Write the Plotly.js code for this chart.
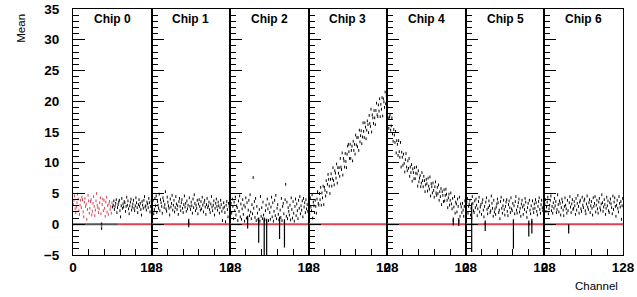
<!DOCTYPE html>
<html>
<head>
<meta charset="utf-8">
<script src="https://cdn.plot.ly/plotly-3.0.1.min.js"></script>
<style>html,body{margin:0;padding:0;background:#fff;}#chart{width:637px;height:297px;}</style>
</head>
<body>
<div id="chart"></div>
<script>
// ---- data (mean per channel) ----
const chipNames = ["Chip 0","Chip 1","Chip 2","Chip 3","Chip 4","Chip 5","Chip 6"];
const xTickVals = [0,128];
const xTickText = ["0","128"];
const redChannelsChip0 = 64;      // first channels of chip 0 drawn in red
const fitLevel = 0;               // the horizontal fit line
const darkFitEndChip0 = 74;       // chip 0 fit line is dark up to this channel

const chip0 = [3.2,3.9,4.6,2.5,1.9,2.8,3.5,4.9,4.1,2.2,1.6,3.1,3.9,2.7,4.4,4.0,
2.0,1.2,3.6,4.2,2.9,3.3,0.8,2.4,4.7,3.8,1.8,2.6,3.7,4.0,1.5,2.1,
3.4,4.5,2.9,1.4,2.3,3.8,5.0,3.1,2.7,1.9,2.5,3.5,4.3,1.7,-0.3,3.2,
4.1,2.2,3.9,2.6,1.3,3.6,4.4,2.0,3.0,1.6,3.3,3.7,2.4,2.9,1.8,3.5,
2.8,3.1,3.8,2.4,2.9,3.4,4.0,1.9,2.7,3.2,3.6,3.9,2.2,1.2,3.0,4.2,
2.6,3.3,2.8,3.7,3.5,2.1,2.9,4.4,3.1,3.8,2.5,1.7,3.0,3.6,4.1,2.3,
2.8,3.3,3.9,2.6,2.2,3.0,4.3,3.5,2.7,1.9,3.2,4.0,2.9,3.4,2.4,1.5,
3.7,3.1,2.6,3.9,4.5,2.8,3.0,2.3,3.6,3.3,2.7,4.2,3.5,2.0,2.9,3.8];

const chip1 = [2.8,3.3,3.9,1.7,2.4,4.2,3.0,4.6,1.9,3.7,3.1,2.6,4.9,2.2,4.0,3.5,
2.9,1.8,4.3,3.8,2.7,3.2,5.3,2.5,2.1,4.4,3.6,3.0,2.6,1.5,4.1,2.8,
3.4,4.7,2.3,3.1,3.9,2.0,2.7,4.5,3.3,2.4,3.0,1.6,3.7,4.2,2.9,2.2,
3.5,4.0,2.6,1.9,3.2,4.6,2.8,3.4,2.1,3.8,2.5,3.1,0.2,4.3,2.9,2.4,
3.6,3.0,1.8,4.1,2.7,4.8,3.4,2.2,3.1,2.6,3.9,1.7,3.3,4.0,2.9,2.3,
3.7,2.5,4.4,3.1,2.0,3.5,3.9,2.8,1.6,3.2,4.2,2.7,3.0,3.6,2.4,1.9,
3.3,4.5,2.8,2.2,3.1,3.8,1.5,2.6,3.4,4.1,2.9,2.3,3.6,3.0,1.8,2.7,
3.9,3.2,2.1,0.6,2.6,3.5,2.8,1.9,0.4,3.1,3.7,2.4,1.2,3.4,2.9,2.5];

const chip2 = [2.6,3.4,1.8,4.1,2.9,0.9,3.6,2.2,4.4,1.5,3.0,2.7,0.6,3.8,2.1,4.6,
1.2,3.3,0.8,2.5,4.0,1.6,3.1,0.5,2.8,4.3,1.0,3.5,0.8,2.3,3.9,1.4,
4.8,2.0,0.9,3.2,1.7,7.6,2.6,3.7,1.1,4.2,0.6,2.9,1.8,0.8,0.5,2.4,
0.5,4.5,1.3,2.7,0.9,3.6,1.5,0.5,0.7,2.2,3.1,0.3,4.1,2.5,0.6,3.3,
1.9,0.8,2.8,4.4,1.2,3.5,0.5,2.1,3.9,1.4,4.7,0.9,2.6,3.2,1.6,0.7,
0.6,2.3,1.1,4.2,0.6,2.9,3.4,1.7,0.2,4.0,6.5,1.3,3.6,0.9,2.7,2.1,
1.5,3.1,0.7,4.3,2.4,1.0,3.7,1.8,0.5,2.9,4.1,1.4,3.3,2.2,0.9,3.9,
2.6,4.5,1.7,3.0,2.3,3.8,1.2,4.2,2.8,3.5,1.9,4.0,2.5,3.2,2.1,3.6];

const chip3 = [3.1,1.6,4.3,2.8,2.2,4.8,1.0,3.6,3.0,1.9,3.9,2.9,1.8,4.1,5.3,3.4,
3.1,5.0,4.0,6.0,3.1,5.1,4.3,6.2,3.2,6.0,5.5,4.6,7.1,5.2,6.5,8.1,
7.3,6.2,5.0,7.3,8.2,6.2,7.4,9.2,7.1,6.4,8.7,8.3,7.5,9.8,6.7,9.2,
8.3,9.2,7.8,10.7,9.3,8.9,11.6,8.0,10.7,10.3,9.3,11.5,10.2,9.2,11.4,12.7,
13.0,11.8,10.7,13.0,10.7,12.0,12.7,10.3,13.5,12.0,13.0,11.4,14.5,12.9,14.1,12.6,
14.1,12.0,15.3,13.4,14.4,15.2,13.1,14.2,16.5,15.1,14.1,16.5,15.8,13.9,15.3,16.8,
16.2,14.9,17.7,16.4,15.9,18.7,15.0,17.8,17.3,16.4,18.5,17.3,16.2,18.5,19.7,17.8,
17.5,19.4,18.4,20.4,17.5,19.5,18.7,20.6,17.6,20.4,19.9,19.0,21.5,19.6,20.9,22.5];

const chip4 = [19.0,17.3,15.6,17.4,17.8,15.3,16.0,17.3,14.7,13.5,15.4,14.5,13.3,15.1,11.6,13.6,
13.0,11.2,13.6,11.8,10.9,13.3,9.3,11.7,10.9,9.6,11.4,9.9,8.5,10.5,11.5,9.3,
8.7,10.3,9.1,10.7,7.8,9.3,8.4,9.7,7.0,9.0,8.4,7.4,9.2,7.4,8.3,9.3,
8.2,6.2,8.7,6.9,7.5,7.9,6.1,6.7,8.4,7.1,6.1,7.8,7.1,5.3,6.4,7.3,
6.6,5.4,7.5,6.2,5.7,7.7,4.6,6.6,6.1,5.1,6.7,5.5,4.4,6.1,6.9,5.1,
4.7,6.0,5.0,6.4,3.9,5.3,4.5,5.8,3.2,5.3,4.7,3.7,5.6,3.8,4.7,5.7,
4.9,3.9,2.7,4.3,4.9,3.1,3.9,5.1,3.3,2.5,4.2,0.6,2.8,4.5,1.8,3.6,
3.3,2.0,4.1,2.9,0.5,4.4,1.3,3.3,2.8,1.9,3.4,2.3,1.3,2.9,3.8,2.1];

const chip5 = [2.4,3.6,4.2,1.8,2.9,3.3,3.9,1.5,2.6,1.0,4.5,3.4,2.2,1.9,3.8,2.7,
4.1,3.1,1.4,2.5,3.7,4.4,2.0,2.8,3.2,1.6,3.5,4.0,2.3,1.2,2.9,0.1,
3.6,4.3,2.4,1.7,2.7,3.8,3.0,1.9,2.2,4.6,3.4,2.6,1.3,3.9,2.0,2.5,
1.6,2.8,3.3,4.1,3.5,1.9,2.3,0.9,3.7,4.4,2.6,1.8,3.0,3.9,2.4,1.5,
2.9,3.6,4.0,2.1,1.4,3.2,3.8,2.7,1.9,4.3,2.5,2.2,3.4,0.2,3.0,1.7,
3.7,4.5,2.3,1.8,2.9,3.5,4.1,2.0,2.6,1.3,3.3,3.9,2.8,1.6,3.1,2.4,
4.2,3.6,2.0,1.1,2.7,3.4,0.0,3.9,2.3,1.7,3.0,0.3,3.8,2.5,1.9,3.3,
2.6,4.0,3.5,2.1,1.5,2.9,3.7,4.3,2.4,1.8,3.2,3.9,2.7,2.2,3.5,2.8];

const chip6 = [3.3,4.0,2.1,2.8,3.6,4.4,1.7,2.5,3.1,3.9,4.6,2.2,2.9,1.8,3.5,2.6,
4.2,3.0,3.7,1.9,2.4,4.8,3.2,2.0,3.8,3.4,1.5,2.7,4.1,3.6,2.3,1.4,
2.9,4.3,3.1,2.5,1.8,3.9,2.2,-0.5,3.5,4.5,2.8,1.9,3.3,4.0,2.4,2.6,
3.7,3.0,1.6,4.2,2.3,3.4,4.7,2.9,1.8,3.6,3.9,2.5,2.1,4.4,3.1,2.7,
3.8,4.1,2.2,1.7,3.3,4.6,2.8,2.4,3.5,4.0,1.9,3.0,3.7,2.6,1.5,4.3,
2.9,3.4,4.5,2.0,3.1,3.9,2.5,1.8,3.6,4.2,2.7,2.3,3.3,4.8,3.5,2.1,
2.8,4.0,3.2,1.6,2.6,4.4,3.0,3.8,2.2,1.9,3.5,4.1,3.3,2.7,1.7,4.6,
2.4,3.6,4.3,2.9,1.3,3.1,3.9,2.6,2.0,4.5,3.4,2.8,3.7,0.8,3.0,4.2];

// points with visibly large error bars: chip, channel, error up, error down
const errChip    = [0, 1, 2,  2,  2,  2,  2,  2,  4,  4,  5,  5,  5,  5,  5,  6];
const errChannel = [46,60,28, 46, 55, 59, 80, 88, 107,116,9,  31, 77, 102,107,39];
const errPlus    = [0.6,0.7,0.6,0.6,0.6,0.6,0.6,0.6,0.5,0.5,2.5,0.5,0.6,0.6,0.6,0.5];
const errMinus   = [0.6,0.7,1.5,3.5,6.0,6.0,3.0,4.0,0.8,0.8,5.5,1.2,4.2,2.0,1.8,1.0];

// ---- build ----
const chips = [chip0,chip1,chip2,chip3,chip4,chip5,chip6];
const RED = '#d9434f';
const traces = [];
const layout = {
  width:637, height:297,
  margin:{l:73, r:14, t:9, b:42},
  paper_bgcolor:'#ffffff', plot_bgcolor:'#ffffff',
  showlegend:false,
  font:{family:'Liberation Sans, Arial, sans-serif', color:'#000'},
  annotations:[], shapes:[]
};
const n = chips.length;
chips.forEach((vals, c) => {
  const sfx = c === 0 ? '' : String(c+1);
  const xa = 'x'+sfx, ya = 'y'+sfx;
  const plus = vals.map(()=>0), minus = vals.map(()=>0);
  errChip.forEach((ec,k)=>{ if(ec===c){ plus[errChannel[k]] = errPlus[k]; minus[errChannel[k]] = errMinus[k]; } });
  const xs = vals.map((v,i)=>i+0.5);
  const col = vals.map((v,i)=> (c===0 && i<redChannelsChip0) ? RED : '#000');
  if (c === 0) {
    traces.push({x:[0,darkFitEndChip0], y:[fitLevel,fitLevel], xaxis:xa, yaxis:ya, mode:'lines',
      line:{color:'#555', width:2}, hoverinfo:'skip'});
    traces.push({x:[darkFitEndChip0,128], y:[fitLevel,fitLevel], xaxis:xa, yaxis:ya, mode:'lines',
      line:{color:RED, width:2}, hoverinfo:'skip'});
  } else {
    traces.push({x:[0,128], y:[fitLevel,fitLevel], xaxis:xa, yaxis:ya, mode:'lines',
      line:{color:RED, width:2}, hoverinfo:'skip'});
  }
  traces.push({
    x:xs, y:vals, xaxis:xa, yaxis:ya, mode:'markers',
    marker:{symbol:'line-ns-open', size:2, color:col, line:{color:col, width:1}},
    error_y:{type:'data', symmetric:false, array:plus, arrayminus:minus, color:'#000', thickness:1.2, width:0},
    cliponaxis:true
  });
  const d0 = c/n, d1 = (c+1)/n;
  layout['xaxis'+sfx] = {
    domain:[d0,d1], range:[0,128], anchor:ya,
    tickmode:'array', tickvals:xTickVals, ticktext:xTickText,
    ticks:'inside', ticklen:10, tickcolor:'#000',
    minor:{dtick:25.6, tick0:0, ticks:'inside', ticklen:6, tickcolor:'#000'},
    showline:true, linecolor:'#000', linewidth:1, mirror:true,
    showgrid:false, zeroline:false,
    tickfont:{size:13.5, color:'#000', weight:'bold'}
  };
  layout['yaxis'+sfx] = {
    domain:[0,1], range:[-5,35], anchor:xa,
    tickmode:'linear', tick0:0, dtick:5,
    ticks:'inside', ticklen:12, tickcolor:'#000',
    minor:{dtick:1, ticks:'inside', ticklen:6, tickcolor:'#000'},
    showticklabels: c===0, ticklabelstandoff:10,
    showline:true, linecolor:'#000', linewidth:1, mirror:true,
    showgrid:false, zeroline:false,
    tickfont:{size:13.5, color:'#000', weight:'bold'}
  };
  layout.annotations.push({
    text:chipNames[c], xref:xa+' domain', yref:'paper', x:0.5, y:0.995,
    xanchor:'center', yanchor:'top', showarrow:false, font:{size:12, color:'#000', weight:'bold'}
  });
});
layout.annotations.push({text:'Mean', xref:'paper', yref:'paper', x:-0.095, y:0.99, xanchor:'center', yanchor:'top',
  textangle:-90, showarrow:false, font:{size:11.5, color:'#000'}});
layout.annotations.push({text:'Channel', xref:'paper', yref:'paper', x:0.995, y:-0.095, xanchor:'right', yanchor:'top',
  showarrow:false, font:{size:11.5, color:'#000'}});

Plotly.newPlot('chart', traces, layout, {staticPlot:true, displayModeBar:false});
</script>
</body>
</html>
